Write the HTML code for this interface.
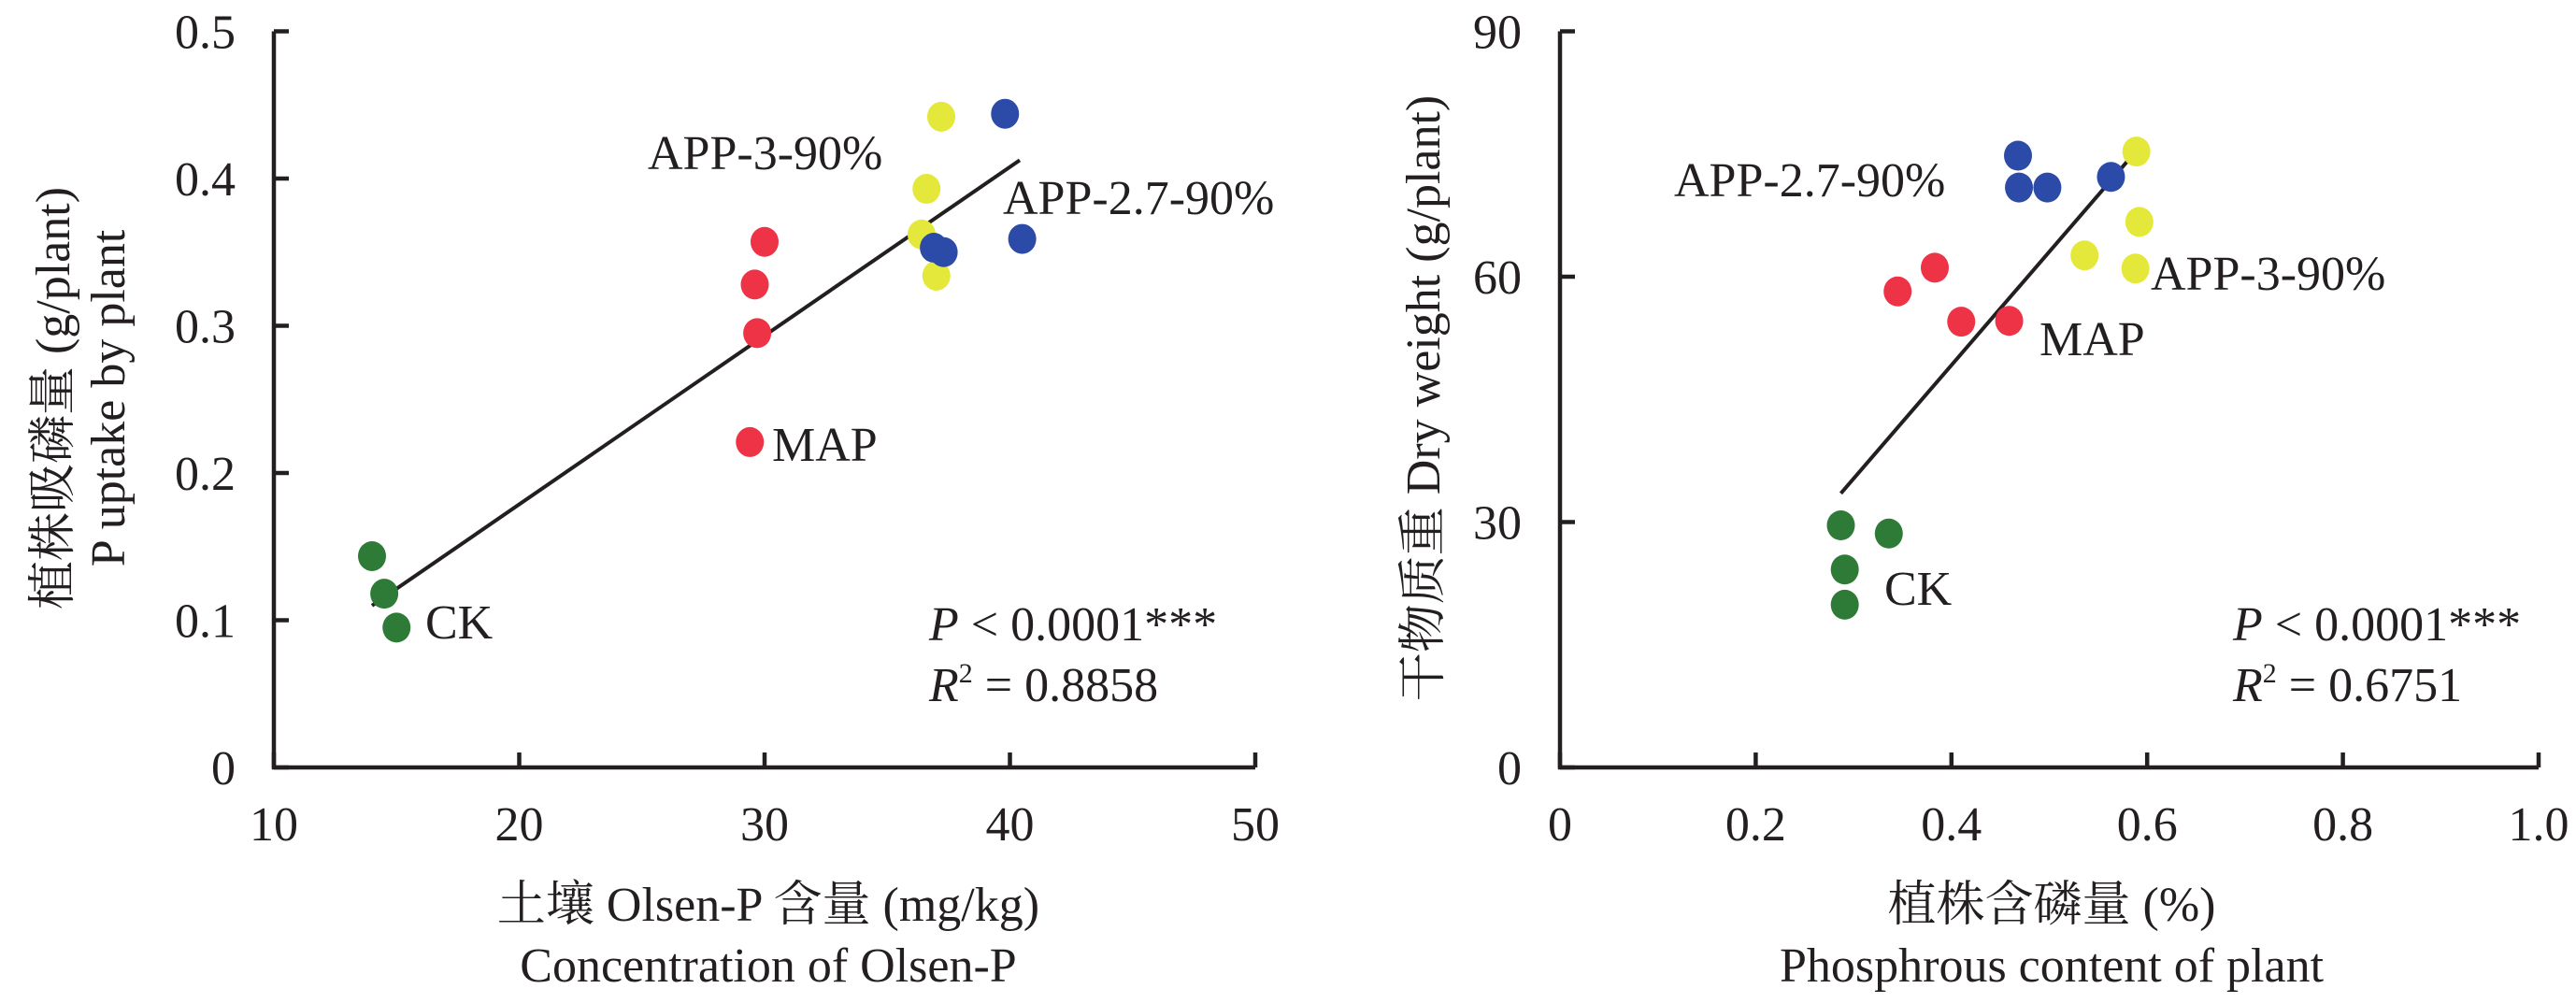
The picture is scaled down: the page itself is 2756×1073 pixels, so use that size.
<!DOCTYPE html>
<html><head><meta charset="utf-8"><style>
html,body{margin:0;padding:0;background:#fff;}
svg{display:block;}
svg text{font-family:"Liberation Serif","Times New Roman","Noto Serif CJK SC",serif !important;fill:#231f20;}
</style></head><body>
<svg id="chart" width="2756" height="1073" viewBox="0 0 2756 1073" xmlns="http://www.w3.org/2000/svg" font-family="Liberation Serif, Noto Serif CJK SC, serif">
<g id="left"></g>
<g id="right"></g>
</svg>
<script>
// ---- Left panel data ----
const leftXTicks = [10, 20, 30, 40, 50];
const leftYTicks = [0, 0.1, 0.2, 0.3, 0.4, 0.5];
const leftYTickLabels = ["0", "0.1", "0.2", "0.3", "0.4", "0.5"];
const leftCKx = [14.0, 14.5, 15.0];
const leftCKy = [0.1435, 0.118, 0.095];
const leftMAPx = [29.4, 29.7, 29.6, 30.0];
const leftMAPy = [0.221, 0.295, 0.328, 0.357];
const leftAPP3x = [37.2, 36.6, 36.4, 37.0];
const leftAPP3y = [0.442, 0.393, 0.362, 0.334];
const leftAPP27x = [39.8, 40.5, 36.9, 37.3];
const leftAPP27y = [0.444, 0.359, 0.353, 0.350];
const leftFitX = [14.0, 40.4];
const leftFitCoef = [-0.0505, 0.01146];
// ---- Right panel data ----
const rightXTicks = [0, 0.2, 0.4, 0.6, 0.8, 1.0];
const rightXTickLabels = ["0", "0.2", "0.4", "0.6", "0.8", "1.0"];
const rightYTicks = [0, 30, 60, 90];
const rightCKx = [0.287, 0.336, 0.291, 0.291];
const rightCKy = [29.6, 28.6, 24.2, 19.9];
const rightMAPx = [0.345, 0.383, 0.410, 0.459];
const rightMAPy = [58.2, 61.1, 54.5, 54.6];
const rightAPP27x = [0.468, 0.469, 0.498, 0.563];
const rightAPP27y = [74.8, 70.9, 70.9, 72.2];
const rightAPP3x = [0.589, 0.592, 0.536, 0.588];
const rightAPP3y = [75.3, 66.7, 62.6, 61.0];
const rightFitX = [0.287, 0.589];
const rightFitCoef = [-6.3, 138.7];

const NS = "http://www.w3.org/2000/svg";
const COL = {ck:"#2e7b38", map:"#ee3347", app3:"#e3e83a", app27:"#2c4aa8"};
function mk(parent, tag, attrs, txt){
  const e = document.createElementNS(NS, tag);
  for (const k in attrs) e.setAttribute(k, attrs[k]);
  if (txt !== undefined) e.textContent = txt;
  parent.appendChild(e);
  return e;
}
function panel(g, o){
  const sx = v => o.x0 + (v - o.xmin) / (o.xmax - o.xmin) * (o.x1 - o.x0);
  const sy = v => o.y0 - (v - o.ymin) / (o.ymax - o.ymin) * (o.y0 - o.y1);
  const ax = mk(g, "path", {d:`M${o.x0},${o.y1} V${o.y0} H${o.x1}`, fill:"none", stroke:"#231f20", "stroke-width":4.5});
  
  
  o.xt.forEach((v,i)=>{
    const t = mk(g, "line", {x1:sx(v), x2:sx(v), y1:o.y0, y2:o.y0-16, stroke:"#231f20", "stroke-width":4.5});
    
    
    const l = mk(g, "text", {x:sx(v), y:899, "font-size":52, "text-anchor":"middle"}, o.xtl[i]);
    
    
  });
  o.yt.forEach((v,i)=>{
    const t = mk(g, "line", {x1:o.x0, x2:o.x0+16, y1:sy(v), y2:sy(v), stroke:"#231f20", "stroke-width":4.5});
    
    
    const l = mk(g, "text", {x:o.x0-41, y:sy(v)+18, "font-size":52, "text-anchor":"end"}, o.ytl[i]);
    
    
  });
  const fl = mk(g, "line", {x1:sx(o.fx[0]), y1:sy(o.fc[0]+o.fc[1]*o.fx[0]), x2:sx(o.fx[1]), y2:sy(o.fc[0]+o.fc[1]*o.fx[1]), stroke:"#231f20", "stroke-width":4});
  
  
  o.series.forEach(s=>{
    s.x.forEach((xv,i)=>{
      const c = mk(g, "ellipse", {cx:sx(xv), cy:sy(s.y[i]), rx:15, ry:16, fill:s.c});
      
      
    });
  });
}
const L = document.getElementById("left"), R = document.getElementById("right");
panel(L, {x0:293, x1:1343, y0:821, y1:33.5, xmin:10, xmax:50, ymin:0, ymax:0.5,
  xt:leftXTicks, xtl:leftXTicks.map(String), yt:leftYTicks, ytl:leftYTickLabels,
  fx:leftFitX, fc:leftFitCoef,
  series:[{n:"ck",x:leftCKx,y:leftCKy,c:COL.ck},{n:"map",x:leftMAPx,y:leftMAPy,c:COL.map},
          {n:"app-3-90",x:leftAPP3x,y:leftAPP3y,c:COL.app3},{n:"app-2-7-90",x:leftAPP27x,y:leftAPP27y,c:COL.app27}]});
panel(R, {x0:1669, x1:2716, y0:821, y1:33.5, xmin:0, xmax:1, ymin:0, ymax:90,
  xt:rightXTicks, xtl:rightXTickLabels, yt:rightYTicks, ytl:rightYTicks.map(String),
  fx:rightFitX, fc:rightFitCoef,
  series:[{n:"ck",x:rightCKx,y:rightCKy,c:COL.ck},{n:"map",x:rightMAPx,y:rightMAPy,c:COL.map},
          {n:"app-2-7-90",x:rightAPP27x,y:rightAPP27y,c:COL.app27},{n:"app-3-90",x:rightAPP3x,y:rightAPP3y,c:COL.app3}]});
</script>
<svg style="position:absolute;left:0;top:0" width="2756" height="1073" xmlns="http://www.w3.org/2000/svg" font-family="Liberation Serif, Noto Serif CJK SC, serif">
<g font-size="52">
<text x="693" y="181">APP-3-90%</text>
<text x="1073" y="229">APP-2.7-90%</text>
<text x="826" y="493">MAP</text>
<text x="455" y="683">CK</text>
<text x="994" y="685"><tspan font-style="italic">P</tspan> &lt; 0.0001***</text>
<text x="994" y="750"><tspan font-style="italic">R</tspan><tspan font-size="30" dy="-20">2</tspan><tspan dy="20"> = 0.8858</tspan></text>
<text x="822" y="985" text-anchor="middle">土壤 Olsen-P 含量 (mg/kg)</text>
<text x="822" y="1050" text-anchor="middle">Concentration of Olsen-P</text>
<text transform="translate(74,426) rotate(-90)" text-anchor="middle">植株吸磷量 (g/plant)</text>
<text transform="translate(133,426) rotate(-90)" text-anchor="middle">P uptake by plant</text>
<text x="1791" y="210">APP-2.7-90%</text>
<text x="2301" y="310">APP-3-90%</text>
<text x="2182" y="380">MAP</text>
<text x="2016" y="647">CK</text>
<text x="2389" y="685"><tspan font-style="italic">P</tspan> &lt; 0.0001***</text>
<text x="2389" y="750"><tspan font-style="italic">R</tspan><tspan font-size="30" dy="-20">2</tspan><tspan dy="20"> = 0.6751</tspan></text>
<text x="2195" y="985" text-anchor="middle">植株含磷量 (%)</text>
<text x="2195" y="1050" text-anchor="middle">Phosphrous content of plant</text>
<text transform="translate(1540,426) rotate(-90)" text-anchor="middle">干物质重 Dry weight (g/plant)</text>
</g>
</svg>
</body></html>
